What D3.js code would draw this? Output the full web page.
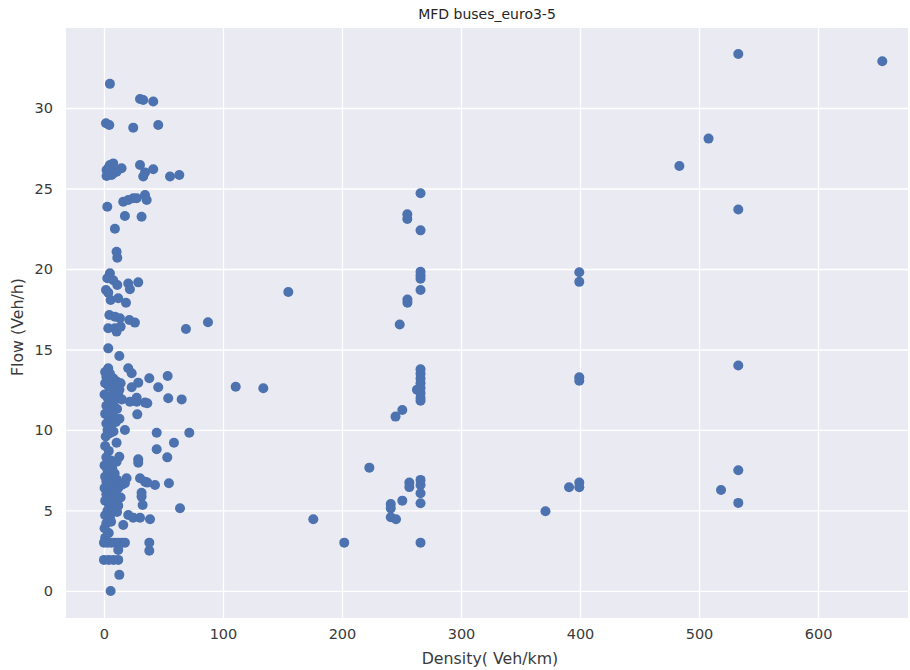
<!DOCTYPE html>
<html>
<head>
<meta charset="utf-8">
<script src="https://cdn.jsdelivr.net/npm/d3@7"></script>
<style>
  html, body { margin: 0; padding: 0; background: #ffffff; }
  svg { display: block; font-family: "DejaVu Sans", sans-serif; }
</style>
</head>
<body>
<svg id="chart" width="910" height="670"></svg>
<script>
// Observations as [density (veh/km), flow (veh/h)], grouped by density range.
const lowDensityUpper = [
  [5,31.5],[30.3,30.56],[33,30.5],[41.4,30.4],[1.7,29.05],[4.5,28.94],[24.6,28.78],[45.6,28.94],
  [5,26.46],[7.8,26.56],[2.2,26.15],[14.8,26.26],[2.2,25.78],[6.4,25.84],[10.6,26.04],[4,26.3],[8,25.95],
  [30.3,26.46],[33,25.74],[34.5,26.0],[41.4,26.2],[55.5,25.74],[63.3,25.84],
  [2.8,23.87],[16.2,24.18],[20.4,24.29],[24.6,24.39],[27.5,24.39],[34.5,24.6],[35.9,24.29],[17.6,23.29],[31.6,23.25],
  [9.2,22.5],[10.6,21.07],[11.2,20.7],
  [5,19.73],[2.8,19.42],[7.8,19.3],[11.2,19.0],[20.4,19.1],[28.8,19.17],[21.8,18.74],[1.7,18.7],[3.6,18.53],
  [5.6,18.07],[12,18.18],[18.5,17.9],
  [4.5,17.14],[9.2,17.04],[13.4,16.94],[21.3,16.83],[26,16.67],[3.6,16.32],[9.2,16.32],[10.6,16.11],[14,16.42],
  [3.6,15.07],[12.9,14.6],[68.9,16.27],[87.4,16.69]
];

const lowDensityMiddle = [
  [3.6,13.83],[20.4,13.83],[23.3,13.52],[38.1,13.21],[53.5,13.35],[28.8,12.94],[45.6,12.65],[23.3,12.65],
  [54,11.97],[65.3,11.9],[34.5,11.7],[27.5,11.76],[21.8,11.76],[28,10.97],[36.4,11.66],[27.5,12.0],
  [1,13.6],[2,13.3],[5,13.5],[8,13.2],[11,13.0],[14,12.9],[1,12.9],[4,12.7],[7,12.6],[10,12.8],[13,12.5],
  [0.5,12.2],[3,12.0],[6,12.1],[9,11.9],[12,12.2],[15,11.9],[2,11.5],[5,11.4],[8,11.6],[11,11.3],
  [1,11.0],[4,10.8],[7,10.9],[13,10.7],[2,10.4],[6,10.3],[10,10.5],[3,10.0],[1.5,9.6],[5,9.8],[8,9.9],
  [17.6,10.0],[44.3,9.83],[71.7,9.83],[58.8,9.21],[44.3,8.8],[53.2,8.3],[28.8,8.18],[28.8,7.97],
  [10.6,9.21],[12.9,8.34],[10.6,8.03],[110.7,12.69],[133.9,12.59]
];

const lowDensityLower = [
  [1,9.0],[4,8.7],[2,8.3],[6,8.1],[0.5,7.8],[3,7.5],[7,7.6],[1,7.1],[5,7.2],[9,7.3],[2,6.8],[6,6.7],[11,6.9],
  [0.5,6.4],[4,6.3],[8,6.5],[12,6.4],[15,6.6],[2,6.0],[6,5.9],[10,6.1],[14,5.8],[1,5.6],[4,5.4],[8,5.5],
  [12,5.3],[3,5.0],[7,5.1],[11,4.9],[1,4.7],[5,4.6],[2,4.2],[6,4.3],[0.5,3.9],[4,3.6],[1,3.3],
  [30.3,7.0],[34.5,6.79],[42.9,6.58],[54.6,6.69],[63.9,5.14],[31.6,6.1],[31.6,5.86],[32.5,5.34],[36.4,6.73],
  [19,7.0],[17.6,6.69],[16.2,4.1],[20.4,4.72],[24.6,4.55],[30.3,4.55],[38.7,4.45],[38.1,3.0],[38.1,2.5],
  [0,3.0],[3,3.0],[6,3.0],[9,3.0],[12,3.0],[15,3.0],[17.6,3.0],[0,1.93],[4,1.93],[8,1.93],[12,1.93],
  [12.9,1.0],[5.6,0],[12,2.55]
];

const midDensity = [
  [154.9,18.57],[175.9,4.45],[201.9,3.0],[223,7.66],
  [266,24.7],[254.9,23.4],[254.9,23.1],[266,22.4],[266,19.83],[266,19.6],[266,19.4],[266,18.7],
  [255,18.1],[255,17.9],[248.5,16.55],
  [266,13.77],[266,13.5],[266,13.2],[266,12.9],[266,12.6],[266,12.3],[266,12.0],[266,11.82],[263,12.5],
  [245,10.83],[250.7,11.24],
  [256.6,6.73],[256.6,6.45],[266,6.9],[266,6.58],[266,6.07],[266,5.45],[250.7,5.61],[241,5.4],[241,5.13],
  [241,4.58],[245.4,4.45],[266,3.0]
];

const highDensity = [
  [399.4,19.8],[399.4,19.2],[399.4,13.27],[399.4,13.06],[399.4,6.73],[399.4,6.44],[390.8,6.44],[371,4.95],
  [533,33.35],[654,32.9],[508,28.1],[483.5,26.4],[533,23.7],[533,14.0],[533,7.5],[518.5,6.27],[533,5.47]
];

const xTicks = [0, 100, 200, 300, 400, 500, 600];
const yTicks = [0, 5, 10, 15, 20, 25, 30];

const chartTitle = "MFD buses_euro3-5";
const xLabel = "Density( Veh/km)";
const yLabel = "Flow (Veh/h)";

const points = [].concat(lowDensityUpper, lowDensityMiddle, lowDensityLower, midDensity, highDensity);

const svg = d3.select("#chart");
const plot = { left: 66, right: 908, top: 28, bottom: 618 };

const x = d3.scaleLinear().domain([-31.9, 675.6]).range([plot.left, plot.right]);
const y = d3.scaleLinear().domain([-1.68, 34.97]).range([plot.bottom, plot.top]);

// plot background
svg.append("rect")
  .attr("x", plot.left).attr("y", plot.top)
  .attr("width", plot.right - plot.left).attr("height", plot.bottom - plot.top)
  .attr("fill", "#eaeaf2");

// grid
const gridX = svg.append("g")
  .attr("transform", `translate(0,${plot.bottom})`)
  .call(d3.axisBottom(x).tickValues(xTicks).tickSize(-(plot.bottom - plot.top)).tickFormat(""));
const gridY = svg.append("g")
  .attr("transform", `translate(${plot.left},0)`)
  .call(d3.axisLeft(y).tickValues(yTicks).tickSize(-(plot.right - plot.left)).tickFormat(""));
[gridX, gridY].forEach(g => {
  g.select(".domain").remove();
  g.selectAll(".tick line").attr("stroke", "#ffffff").attr("stroke-width", 1.3);
});

// tick labels
const axX = svg.append("g")
  .attr("transform", `translate(0,${plot.bottom})`)
  .call(d3.axisBottom(x).tickValues(xTicks).tickSize(0).tickPadding(11));
const axY = svg.append("g")
  .attr("transform", `translate(${plot.left},0)`)
  .call(d3.axisLeft(y).tickValues(yTicks).tickSize(0).tickPadding(13));
[axX, axY].forEach(g => {
  g.select(".domain").remove();
  g.selectAll("text")
    .attr("fill", "#3a3a3a")
    .style("font-family", "DejaVu Sans, sans-serif")
    .style("font-size", "14.5px");
});

// points
svg.append("g")
  .selectAll("circle")
  .data(points)
  .join("circle")
  .attr("cx", d => x(d[0]))
  .attr("cy", d => y(d[1]))
  .attr("r", 5)
  .attr("fill", "#4c72b0");

// titles
svg.append("text")
  .attr("x", (plot.left + plot.right) / 2).attr("y", 19)
  .attr("text-anchor", "middle")
  .attr("fill", "#262626")
  .style("font-size", "14px")
  .text(chartTitle);

svg.append("text")
  .attr("x", (plot.left + plot.right) / 2 + 3).attr("y", 664)
  .attr("text-anchor", "middle")
  .attr("fill", "#3a3a3a")
  .style("font-size", "15.8px")
  .text(xLabel);

svg.append("text")
  .attr("transform", `translate(23,${(plot.top + plot.bottom) / 2 + 4}) rotate(-90)`)
  .attr("text-anchor", "middle")
  .attr("fill", "#3a3a3a")
  .style("font-size", "15.8px")
  .text(yLabel);
</script>
</body>
</html>
